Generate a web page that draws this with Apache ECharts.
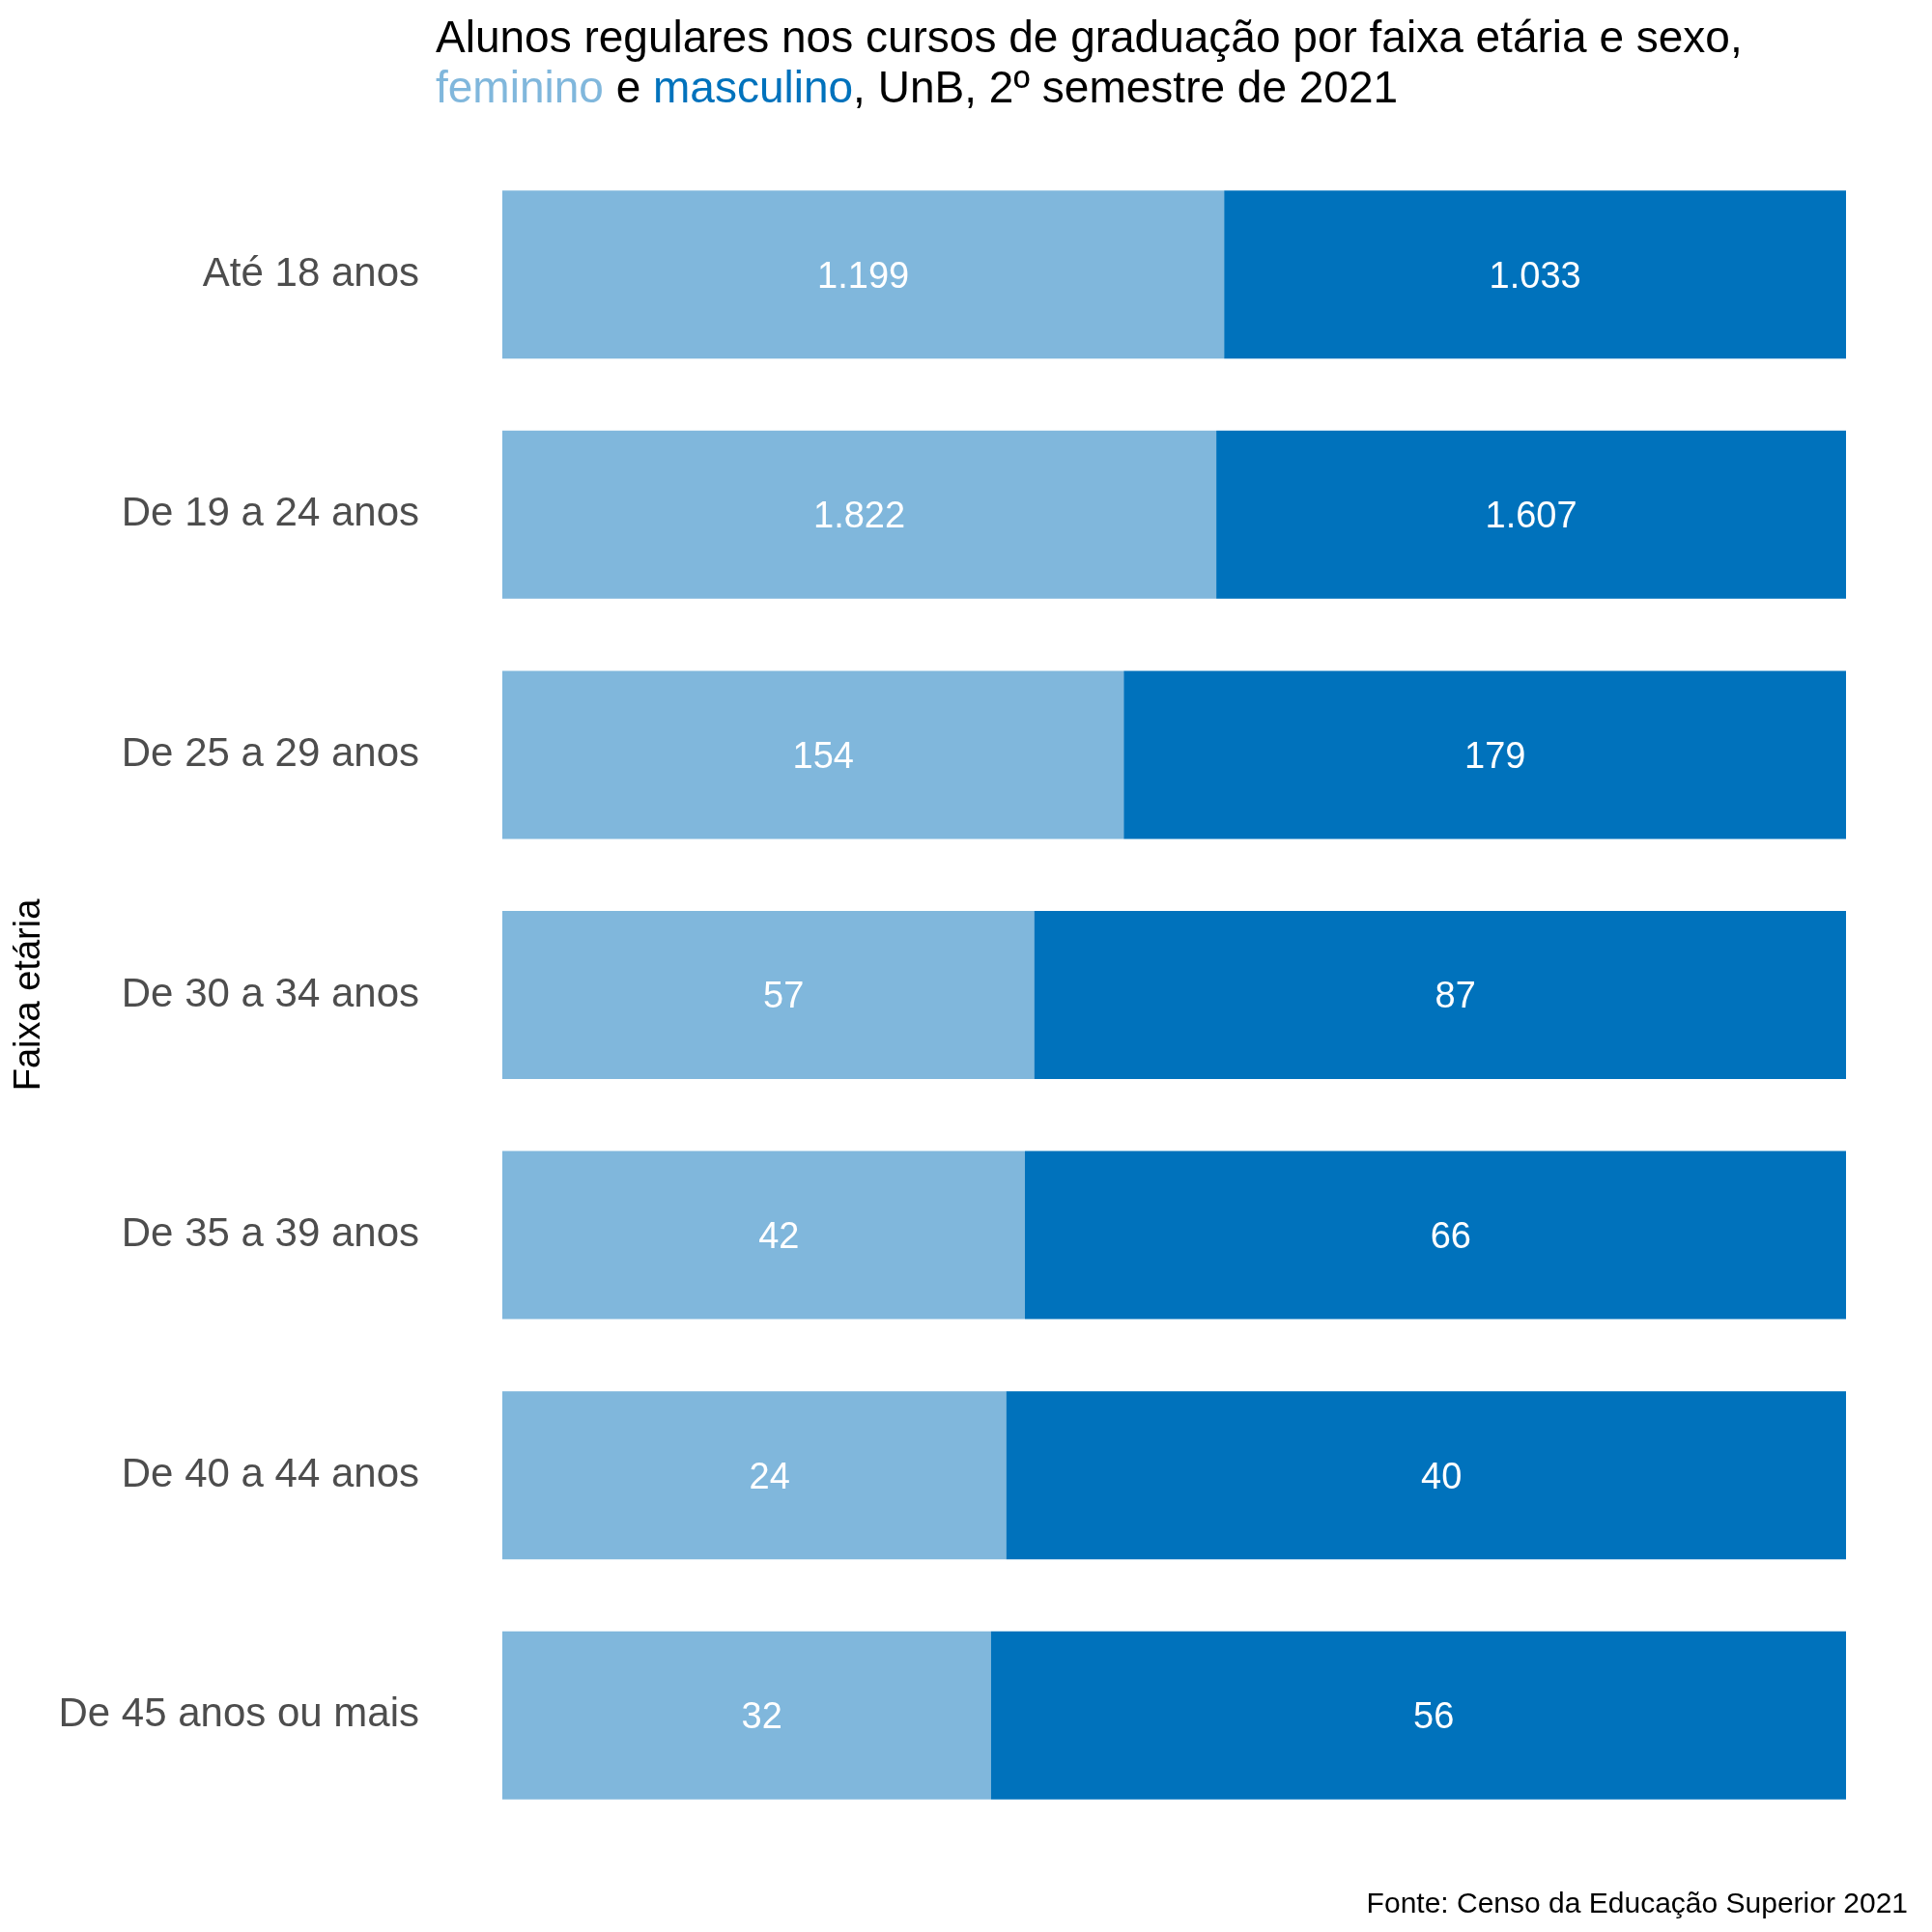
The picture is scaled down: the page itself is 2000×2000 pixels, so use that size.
<!DOCTYPE html>
<html><head><meta charset="utf-8">
<script src="https://cdn.jsdelivr.net/npm/echarts@6/dist/echarts.min.js"></script>
<style>html,body{margin:0;padding:0;background:#fff}#c{width:2000px;height:2000px}</style>
</head><body><div id="c"></div>
<script>
const categories = ["Até 18 anos","De 19 a 24 anos","De 25 a 29 anos","De 30 a 34 anos","De 35 a 39 anos","De 40 a 44 anos","De 45 anos ou mais"];
const feminino = [1199,1822,154,57,42,24,32];
const masculino = [1033,1607,179,87,66,40,56];
const colFem = "#80b7dc", colMasc = "#0072bc";
const FONT = "Liberation Sans, Arial, Helvetica, sans-serif";
// labels formatted like R's format(): padded to a common width with leading spaces
const fmtRaw = v => v.toLocaleString('pt-BR');
const allLabels = feminino.concat(masculino).map(fmtRaw);
const W = Math.max(...allLabels.map(s=>s.length));
const fmt = v => fmtRaw(v).padStart(W, ' ');
const totals = feminino.map((f,i)=>f+masculino[i]);
const femPct = feminino.map((f,i)=>({value:f/totals[i]*100, raw:f}));
const mascPct = masculino.map((m,i)=>({value:m/totals[i]*100, raw:m}));
const chart = echarts.init(document.getElementById('c'), null, {renderer:'canvas'});
const lbl = {show:true, position:'inside', color:'#fff', fontSize:38, fontFamily:FONT, offset:[0,3], formatter:p=>fmt(p.data.raw)};
chart.setOption({
  backgroundColor:'#fff',
  animation:false,
  title:[{
    left:446, top:10,
    text:'Alunos regulares nos cursos de graduação por faixa etária e sexo,\n{f|feminino} e {m|masculino}, UnB, 2º semestre de 2021',
    textStyle:{fontSize:46, fontWeight:'normal', color:'#000', fontFamily:FONT, lineHeight:52,
      rich:{f:{color:colFem,fontSize:46,fontFamily:FONT,lineHeight:52}, m:{color:colMasc,fontSize:46,fontFamily:FONT,lineHeight:52}}}
  },{
    right:20, bottom:8,
    text:'Fonte: Censo da Educação Superior 2021',
    textStyle:{fontSize:30, fontWeight:'normal', color:'#000', fontFamily:FONT}
  }],
  grid:{left:520, right:89, top:160, bottom:100},
  xAxis:{type:'value', min:0, max:100, show:false},
  yAxis:{type:'category', data:categories, inverse:true,
    axisLine:{show:false}, axisTick:{show:false}, splitLine:{show:false},
    axisLabel:{color:'#4d4d4d', fontSize:42, fontFamily:FONT, margin:86, lineHeight:46, padding:[4,0,0,0]},
    name:'Faixa etária', nameLocation:'middle', nameRotate:90, nameGap:468,
    nameTextStyle:{color:'#000', fontSize:38, fontFamily:FONT}
  },
  series:[
    {name:'feminino', type:'bar', stack:'t', data:femPct, barWidth:'70%', itemStyle:{color:colFem}, label:lbl},
    {name:'masculino', type:'bar', stack:'t', data:mascPct, barWidth:'70%', itemStyle:{color:colMasc}, label:lbl}
  ]
});
</script></body></html>
